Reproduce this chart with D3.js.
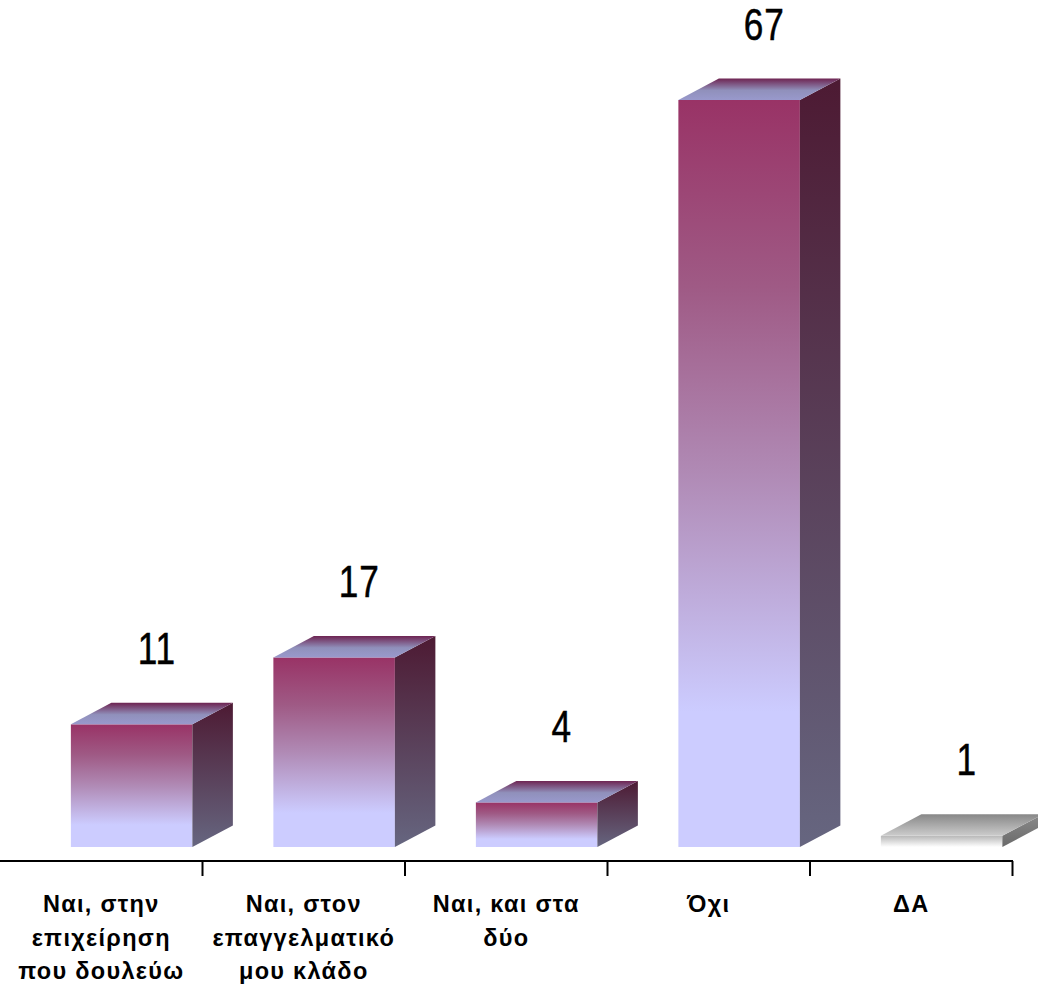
<!DOCTYPE html>
<html>
<head>
<meta charset="utf-8">
<script src="https://cdn.jsdelivr.net/npm/d3@7"></script>
<style>
  html, body { margin: 0; padding: 0; background: #ffffff; }
  svg { display: block; }
</style>
</head>
<body>
<div id="chart"></div>
<script>
// ---- data ----
const categories = [
  "Ναι, στην\nεπιχείρηση\nπου δουλεύω",
  "Ναι, στον\nεπαγγελματικό\nμου κλάδο",
  "Ναι, και στα\nδύο",
  "Όχι",
  "ΔΑ"
];
const values = [11, 17, 4, 67, 1];
const grayCategories = ["ΔΑ"];

// ---- layout ----
const W = 1038, H = 1005;
const floorY = 847, axisY = 861;

const svg = d3.select("#chart").append("svg")
  .attr("width", W).attr("height", H);

const x = d3.scaleBand().domain(categories).range([0, 1012.5]).padding(0);
const y = d3.scaleLinear().domain([0, 67]).range([floorY, 100]);

const step = x.step();
const frontOff = step * 0.35, frontW = step * 0.6;
const dx = step * 0.2, dy = 21.5;

// ---- gradients ----
const defs = svg.append("defs");
function vGrad(id, stops) {
  const g = defs.append("linearGradient").attr("id", id)
    .attr("x1", 0).attr("y1", 0).attr("x2", 0).attr("y2", 1);
  stops.forEach(s => g.append("stop").attr("offset", s[0]).attr("stop-color", s[1]));
}
vGrad("frontC", [[0, "#993366"], [0.25, "#9f5a85"], [0.5, "#b08ab5"], [0.82, "#ccccff"], [1, "#ccccff"]]);
vGrad("sideC", [[0, "#4d1a33"], [1, "#666680"]]);
vGrad("topC", [[0, "#6e2452"], [0.55, "#9090bb"], [1, "#9999cc"]]);
vGrad("frontG", [[0, "#b8b8b8"], [1, "#ffffff"]]);
vGrad("sideG", [[0, "#8a8a8a"], [1, "#6a6a6a"]]);
vGrad("topG", [[0, "#888888"], [1, "#cccccc"]]);

// ---- bars ----
const data = categories.map((c, i) => ({ cat: c, v: values[i], gray: grayCategories.includes(c) }));

const bars = svg.append("g").selectAll("g.bar").data(data).join("g").attr("class", "bar");

bars.each(function(d) {
  const g = d3.select(this);
  const x0 = x(d.cat) + frontOff, x1 = x0 + frontW;
  const yt = y(d.v), yb = y(0);
  const suf = d.gray ? "G" : "C";
  g.append("rect").attr("x", x0).attr("y", yt).attr("width", frontW).attr("height", yb - yt)
    .attr("fill", `url(#front${suf})`);
  g.append("polygon")
    .attr("points", [[x1, yt], [x1 + dx, yt - dy], [x1 + dx, yb - dy], [x1, yb]].map(p => p.join(",")).join(" "))
    .attr("fill", `url(#side${suf})`);
  g.append("polygon")
    .attr("points", [[x0, yt], [x1, yt], [x1 + dx, yt - dy], [x0 + dx, yt - dy]].map(p => p.join(",")).join(" "))
    .attr("fill", `url(#top${suf})`);
});

// ---- value labels ----
svg.append("g").selectAll("g.vl").data(data).join("g").attr("class", "vl")
  .attr("transform", d => `translate(${x(d.cat) + frontOff + frontW / 2 + dx * 0.62},${y(d.v) - dy - 39}) scale(0.8,1)`)
  .append("text")
  .attr("text-anchor", "middle")
  .attr("font-family", "'Liberation Sans', Arial, sans-serif")
  .attr("font-size", 44)
  .attr("letter-spacing", 1)
  .attr("fill", "#000")
  .attr("stroke", "#000")
  .attr("stroke-width", 0.5)
  .text(d => d.v);

// ---- axis ----
const axis = svg.append("g");
axis.append("line").attr("x1", 0).attr("x2", x.range()[1] + 0.5).attr("y1", axisY).attr("y2", axisY)
  .attr("stroke", "#000").attr("stroke-width", 2);
axis.selectAll("line.tick").data(categories).join("line").attr("class", "tick")
  .attr("x1", d => x(d) + step).attr("x2", d => x(d) + step)
  .attr("y1", axisY).attr("y2", axisY + 15)
  .attr("stroke", "#000").attr("stroke-width", 2);

// ---- category labels ----
const cl = svg.append("g").selectAll("text.cl").data(categories).join("text").attr("class", "cl")
  .attr("text-anchor", "middle")
  .attr("font-family", "'Liberation Sans', Arial, sans-serif")
  .attr("font-weight", "bold")
  .attr("font-size", 23.5)
  .attr("letter-spacing", 1.3)
  .attr("fill", "#000");
cl.each(function(d) {
  const t = d3.select(this);
  d.split("\n").forEach((line, i) => {
    t.append("tspan").attr("x", x(d) + step / 2).attr("y", 912 + i * 33.5).text(line);
  });
});
</script>
</body>
</html>
